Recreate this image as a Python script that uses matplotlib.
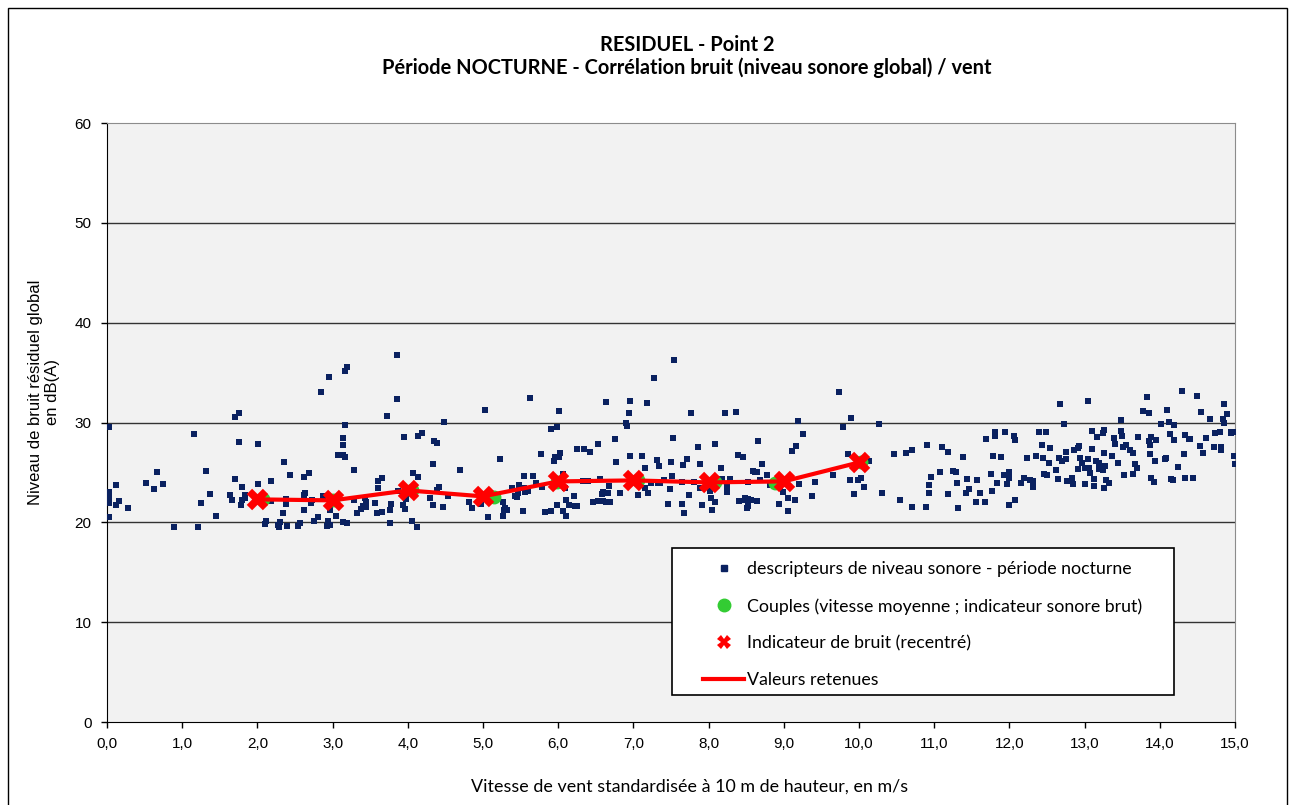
import matplotlib
matplotlib.use("Agg")
import matplotlib.pyplot as plt
from matplotlib.patches import Rectangle
from matplotlib.lines import Line2D

plt.rcParams['font.family'] = ['Lato', 'DejaVu Sans']

# nuage de points : vitesse de vent (m/s) / niveau sonore (dB(A))
wind_speed = [
    0.03, 0.03, 0.03, 0.03, 0.03, 0.12, 0.12, 0.16, 0.28, 0.52,
    0.63, 0.67, 0.75, 0.89, 1.16, 1.21, 1.25, 1.32, 1.37, 1.45,
    1.64, 1.66, 1.70, 1.70, 1.75, 1.75, 1.78, 1.79, 1.79, 1.84,
    1.84, 2.01, 2.01, 2.10, 2.12, 2.18, 2.18, 2.27, 2.29, 2.30,
    2.34, 2.35, 2.38, 2.38, 2.40, 2.43, 2.54, 2.57, 2.62, 2.62,
    2.62, 2.63, 2.68, 2.71, 2.72, 2.75, 2.81, 2.85, 2.87, 2.93,
    2.94, 2.95, 2.96, 2.97, 3.05, 3.07, 3.14, 3.14, 3.14, 3.14,
    3.16, 3.17, 3.17, 3.19, 3.19, 3.28, 3.28, 3.32, 3.38, 3.40,
    3.43, 3.44, 3.45, 3.56, 3.60, 3.59, 3.61,
    3.66, 3.66, 3.72, 3.76, 3.76, 3.78, 3.85, 3.85, 3.87, 3.94,
    3.95, 3.96, 3.98, 4.06, 4.07, 4.12, 4.13, 4.14, 4.19, 4.30,
    4.34, 4.34, 4.35, 4.39, 4.39, 4.41, 4.47, 4.48, 4.53, 4.69,
    4.82, 4.85, 4.97, 5.02, 5.07, 5.22, 5.26, 5.27, 5.28, 5.29,
    5.32, 5.38, 5.42, 5.45, 5.46, 5.48, 5.53, 5.54, 5.56, 5.55,
    5.60, 5.62, 5.67, 5.71, 5.77, 5.78, 5.82, 5.90, 5.91, 5.95,
    5.96, 5.98, 5.99, 6.01, 6.01, 6.02, 6.06, 6.07, 6.09, 6.11,
    6.10, 6.14, 6.21, 6.22, 6.25, 6.25, 6.34, 6.33, 6.39, 6.42,
    6.46, 6.53, 6.53, 6.55, 6.58, 6.60, 6.60, 6.64, 6.64, 6.66,
    6.68, 6.69, 6.76, 6.77, 6.82, 6.90, 6.92, 6.94, 6.96, 6.96,
    7.01, 7.06, 7.11, 7.16, 7.16, 7.18, 7.20,
    7.24, 7.28, 7.32, 7.34, 7.33, 7.36, 7.41, 7.46, 7.49, 7.50,
    7.51, 7.52, 7.54, 7.64, 7.65, 7.66, 7.67, 7.71, 7.74, 7.77,
    7.80, 7.86, 7.89, 7.89, 7.91, 8.02, 8.03, 8.05, 8.08, 8.09,
    8.17, 8.18, 8.22, 8.25, 8.25, 8.28, 8.29, 8.37, 8.39, 8.40,
    8.46, 8.48, 8.48, 8.51, 8.52, 8.53, 8.53, 8.56, 8.59, 8.62,
    8.64, 8.65, 8.66, 8.69, 8.71, 8.77, 8.81, 8.94, 8.95, 8.99,
    9.06, 9.06, 9.11, 9.15, 9.16, 9.19, 9.20, 9.25, 9.37, 9.41,
    9.66, 9.73, 9.79, 9.85, 9.88, 9.89, 9.93, 9.99, 10.02, 10.06,
    10.13, 10.26, 10.31, 10.47, 10.55, 10.62, 10.70, 10.71,
    10.89, 10.91, 10.93, 10.93, 10.96, 11.08, 11.10, 11.18, 11.18, 11.25,
    11.29, 11.30, 11.31, 11.38, 11.42, 11.43, 11.46, 11.55, 11.57, 11.61,
    11.67, 11.69, 11.75, 11.77, 11.78, 11.81, 11.81, 11.84, 11.89, 11.93,
    11.94, 11.97, 12.00, 12.00, 12.00, 12.06, 12.08, 12.08, 12.15, 12.19,
    12.23, 12.28, 12.32, 12.32, 12.36, 12.40, 12.43, 12.45, 12.46, 12.49,
    12.50, 12.53, 12.54, 12.62, 12.64, 12.66, 12.67, 12.70, 12.72, 12.75,
    12.75, 12.76, 12.83, 12.85, 12.86, 12.91, 12.91, 12.92, 12.94, 12.96,
    13.01, 13.00, 13.04, 13.05, 13.06, 13.07, 13.10, 13.10, 13.12, 13.13,
    13.15, 13.16, 13.19, 13.19, 13.24, 13.25, 13.26, 13.26, 13.26, 13.27,
    13.28, 13.33, 13.36, 13.39, 13.40, 13.44, 13.49, 13.49, 13.50, 13.51,
    13.52, 13.55, 13.60, 13.64, 13.65, 13.67, 13.70, 13.71, 13.77, 13.83,
    13.85, 13.86, 13.87, 13.87, 13.88, 13.88, 13.92, 13.94, 13.95, 14.02,
    14.07, 14.08, 14.10, 14.12, 14.13, 14.15, 14.17, 14.19, 14.19, 14.24,
    14.30, 14.32, 14.33, 14.33, 14.39, 14.40, 14.44, 14.50, 14.53, 14.55,
    14.57, 14.62, 14.67, 14.72, 14.73, 14.80, 14.82, 14.82, 14.84, 14.85,
    14.85, 14.90, 14.95, 14.95, 14.99, 14.99, 15.00,
]
noise_level = [
    29.5, 23.0, 22.4, 21.9, 20.5, 23.7, 21.7, 22.1, 21.4, 23.9,
    23.3, 25.0, 23.8, 19.5, 28.8, 19.5, 21.9, 25.1, 22.8, 20.6,
    22.7, 22.2, 30.6, 24.3, 31.0, 28.0, 21.7, 23.5, 22.2, 22.7,
    22.4, 27.8, 23.8, 19.8, 20.1, 24.1, 22.1, 19.7, 19.5, 20.0,
    20.9, 26.0, 22.3, 21.8, 19.6, 24.7, 19.6, 19.9, 24.5, 22.7,
    21.2, 22.9, 24.9, 21.9, 22.2, 20.1, 20.5, 33.1, 22.6, 19.6,
    20.1, 34.6, 21.2, 19.7, 20.6, 26.7, 26.7, 27.7, 28.4, 20.0,
    26.5, 35.2, 29.7, 19.9, 35.6, 22.2, 25.2, 20.9, 21.3, 21.6,
    22.4, 21.5, 22.0, 21.9, 24.1, 20.9, 23.4,
    24.4, 21.0, 30.7, 21.2, 19.9, 21.8, 36.8, 32.4, 23.1, 21.7,
    28.5, 21.3, 22.3, 20.1, 24.9, 19.5, 24.5, 28.6, 28.9, 22.4,
    25.8, 21.7, 28.1, 27.9, 23.2, 23.5, 21.5, 30.1, 22.6, 25.2,
    22.0, 21.4, 21.8, 31.3, 20.5, 26.3, 22.0, 20.6, 21.2, 21.4,
    21.2, 23.4, 22.6, 22.5, 22.9, 23.7, 21.1, 24.6, 23.0, 23.4,
    23.1, 32.5, 24.6, 23.9, 26.8, 23.5, 21.0, 21.1, 29.3, 26.1,
    26.5, 29.5, 21.7, 31.2, 26.5, 26.9, 24.8, 21.1, 23.4, 22.2,
    20.6, 21.7, 22.6, 21.6, 21.6, 27.3, 27.3, 24.1, 24.1, 27.0,
    22.0, 27.8, 22.1, 24.3, 22.8, 22.1, 23.0, 32.1, 22.0, 22.9,
    23.6, 22.0, 28.3, 26.0, 22.9, 30.0, 29.6, 31.0, 32.2, 26.6,
    24.4, 22.7, 26.6, 23.4, 25.4, 32.0, 22.9,
    23.9, 34.5, 26.2, 25.6, 23.9, 23.9, 24.2, 21.8, 23.3, 26.0,
    24.6, 28.4, 36.3, 21.8, 24.0, 25.7, 20.9, 26.3, 22.7, 31.0,
    24.0, 27.5, 25.8, 23.4, 21.7, 23.1, 22.4, 21.2, 27.8, 22.0,
    25.4, 24.3, 31.0, 23.6, 23.0, 24.3, 24.1, 31.1, 26.7, 22.1,
    26.5, 22.4, 22.2, 21.4, 22.3, 24.0, 21.6, 22.2, 25.1, 25.0,
    25.0, 22.1, 28.1, 24.2, 25.8, 24.7, 23.7, 21.8, 23.5, 23.0,
    22.4, 21.1, 27.1, 22.2, 27.6, 30.2, 23.8, 28.8, 22.6, 24.0,
    24.7, 33.1, 29.5, 26.8, 24.2, 30.5, 22.8, 24.2, 24.4, 23.5,
    26.1, 29.8, 22.9, 26.8, 22.2, 26.9, 27.2, 21.5,
    21.5, 27.7, 23.7, 22.9, 24.5, 25.0, 27.5, 27.0, 22.8, 25.1,
    25.0, 23.9, 21.4, 26.5, 22.9, 24.3, 23.3, 22.0, 24.2, 22.9,
    22.0, 28.3, 24.8, 23.1, 26.6, 28.6, 29.0, 23.9, 26.5, 24.7,
    29.0, 23.8, 21.7, 25.0, 24.4, 28.6, 28.2, 22.2, 23.9, 24.4,
    26.4, 24.2, 24.1, 23.5, 26.6, 29.0, 27.7, 26.4, 24.8, 29.0,
    24.7, 25.9, 27.4, 25.2, 24.3, 26.4, 31.9, 26.1, 29.8, 27.0,
    26.3, 24.1, 24.4, 23.8, 27.2, 27.4, 25.3, 27.6, 26.4, 25.9,
    23.8, 25.4, 32.2, 26.3, 25.4, 24.9, 27.3, 29.1, 24.3, 23.6,
    26.1, 28.5, 25.9, 25.3, 28.9, 25.2, 26.9, 29.2, 23.4, 25.6,
    24.2, 23.9, 26.6, 28.4, 27.8, 25.9, 30.3, 29.1, 28.6, 27.5,
    24.7, 27.7, 27.2, 24.8, 26.9, 25.8, 25.4, 28.5, 31.2, 32.6,
    31.0, 28.1, 27.7, 26.8, 24.4, 28.5, 24.0, 26.1, 28.2, 29.8,
    26.3, 26.4, 31.3, 30.1, 28.8, 24.3, 24.2, 29.7, 28.2, 25.5,
    33.2, 26.8, 28.7, 24.4, 28.3, 28.3, 24.4, 32.7, 27.6, 31.1,
    26.9, 28.4, 30.4, 27.5, 28.9, 29.0, 27.5, 27.2, 30.4, 31.9,
    29.9, 30.9, 29.0, 28.9, 29.0, 26.6, 25.8,
]

# couples (vitesse moyenne ; indicateur sonore brut)
couple_speed = [2.07, 3.0, 4.05, 5.15, 5.98, 7.06, 8.08, 8.88, 10.02]
couple_level = [22.3, 22.2, 23.2, 22.5, 24.0, 24.2, 24.0, 23.9, 26.0]

# indicateurs recentrés = valeurs retenues
class_speed = [2, 3, 4, 5, 6, 7, 8, 9, 10]
class_level = [22.3, 22.2, 23.2, 22.6, 24.1, 24.2, 24.0, 24.1, 26.0]

x_ticks = [i for i in range(16)]
y_ticks = [0, 10, 20, 30, 40, 50, 60]

W, H = 1290, 805
fig = plt.figure(figsize=(W / 100, H / 100), dpi=100)
fig.patch.set_facecolor('white')
ax = fig.add_axes([107 / W, 1 - 722 / H, (1235 - 107) / W, (722 - 123) / H])
ax.set_facecolor('#F2F2F2')

# cadre extérieur
fig.add_artist(Rectangle((8 / W, -0.02), (1287 - 8) / W, 1.02 - 8 / H,
                         transform=fig.transFigure, fill=False,
                         edgecolor='black', linewidth=1.0))

for v in y_ticks[1:-1]:
    ax.axhline(v, color='#333333', linewidth=1.0, zorder=1)

ax.scatter(wind_speed, noise_level, marker='s', s=14, color='#0A2160',
           linewidths=0, zorder=3)
ax.scatter(couple_speed, couple_level, marker='o', s=100, color='#33CC33',
           linewidths=0, zorder=4)
ax.plot(class_speed, class_level, color='#FF0000', linewidth=3.0, zorder=5)
ax.scatter(class_speed, class_level, marker='X', s=240, color='#FF0000',
           linewidths=0, zorder=6)

ax.set_xlim(0, 15)
ax.set_ylim(0, 60)
ax.set_xticks(x_ticks)
ax.set_xticklabels([f"{v:.1f}".replace('.', ',') for v in x_ticks])
ax.set_yticks(y_ticks)
ax.tick_params(axis='both', direction='out', length=4, width=1,
               labelsize=11, pad=7, labelfontfamily='Liberation Sans')
for side in ['left', 'bottom']:
    ax.spines[side].set_color('black')
for side in ['top', 'right']:
    ax.spines[side].set_color('#8C8C8C')

fig.text(687 / W, 1 - 45 / H, "RESIDUEL - Point 2", ha='center', va='center',
         fontsize=14.4, fontweight='bold')
fig.text(687 / W, 1 - 68 / H,
         "Période NOCTURNE - Corrélation bruit (niveau sonore global) / vent",
         ha='center', va='center', fontsize=14.4, fontweight='bold')
fig.text(44 / W, 1 - 392 / H, "Niveau de bruit résiduel global\nen dB(A)",
         rotation=90, ha='center', va='center', multialignment='center',
         fontsize=12, linespacing=1.15, family='Liberation Sans')
fig.text(690 / W, 1 - 792 / H,
         "Vitesse de vent standardisée à 10 m de hauteur, en m/s",
         ha='center', va='baseline', fontsize=12.9)

# légende
ax.add_patch(Rectangle((0.501, 0.045), 0.445, 0.2455, transform=ax.transAxes,
                       facecolor='white', edgecolor='black', linewidth=1.2,
                       zorder=7))
handles = [
    Line2D([], [], marker='s', color='#0A2160', linestyle='none', markersize=4),
    Line2D([], [], marker='o', color='#33CC33', linestyle='none', markersize=9),
    Line2D([], [], marker='X', color='#FF0000', linestyle='none', markersize=10,
           markeredgewidth=0),
    Line2D([], [], color='#FF0000', linewidth=3.0),
]
labels = [
    "descripteurs de niveau sonore - période nocturne",
    "Couples (vitesse moyenne ; indicateur sonore brut)",
    "Indicateur de bruit (recentré)",
    "Valeurs retenues",
]
leg = ax.legend(handles, labels, loc='upper left',
                bbox_to_anchor=(0.5285, 0.268), frameon=False, fontsize=12.8,
                borderpad=0, borderaxespad=0, labelspacing=1.16,
                handlelength=2.3, handletextpad=0.15)
leg.set_zorder(8)

fig.savefig('out.png', dpi=100)
